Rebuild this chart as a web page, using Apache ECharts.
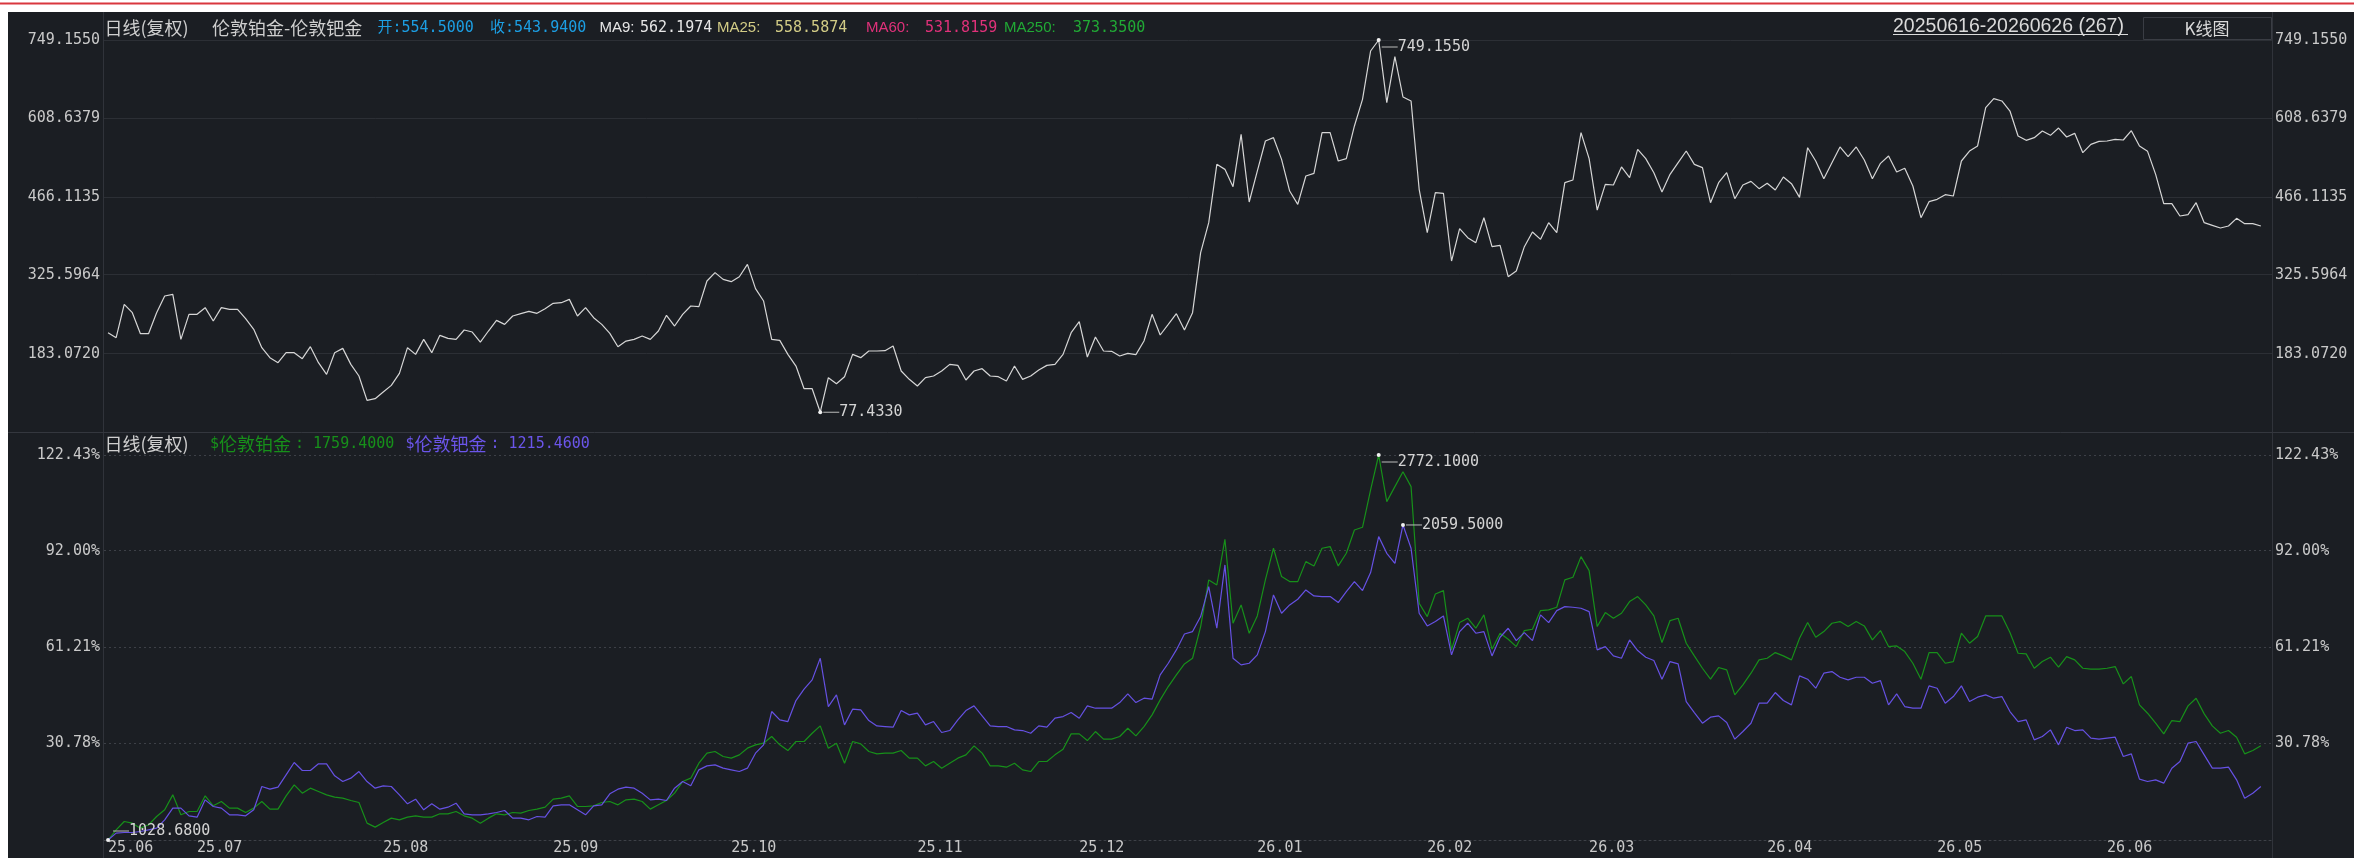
<!DOCTYPE html>
<html><head><meta charset="utf-8">
<script src="https://cdn.jsdelivr.net/npm/echarts@6/dist/echarts.min.js"></script>
<style>html,body{margin:0;padding:0;background:#fff;overflow:hidden}
#c{position:absolute;left:0;top:0;width:2354px;height:858px}</style>
</head><body><div id="c"></div>
<script>
// ---------- data ----------
const startDate = '2025-06-16';
const endDate = '2026-06-26';
const holidays = ['2025-12-25', '2026-01-01', '2026-04-03'];

// 伦敦铂金-伦敦钯金 (top pane)
const spread = [
221.0,211.9,272.1,257.1,219.2,219.2,257.1,287.2,290.2,208.9,
254.1,254.1,266.1,242.0,266.1,263.1,263.1,246.2,227.0,193.9,
175.9,166.8,184.9,184.9,174.1,195.7,166.8,145.8,184.9,192.7,
163.8,142.8,98.9,101.9,113.9,125.9,147.6,193.9,181.9,208.9,
184.9,216.2,210.8,208.9,225.8,222.2,204.1,224.0,243.2,236.0,
251.1,255.3,259.5,255.9,264.3,273.9,275.1,281.1,251.1,266.1,
248.0,236.0,219.8,195.7,205.9,208.9,215.0,208.9,224.0,252.3,
233.0,254.1,269.1,267.9,314.2,329.3,317.2,313.0,322.0,344.3,
300.4,278.1,208.9,207.1,181.9,160.8,119.9,119.9,77.433,139.8,
128.9,141.6,181.9,175.9,187.9,187.9,188.5,196.9,151.8,136.8,
124.7,139.8,142.8,151.8,163.8,162.0,135.6,151.8,156.0,142.8,
141.6,133.8,160.8,136.8,142.8,153.6,162.0,163.8,181.9,221.0,
240.8,177.1,213.2,187.9,187.3,178.9,183.7,181.3,205.9,254.1,
216.8,236.0,255.3,225.8,257.1,365.4,419.5,524.8,515.7,484.5,
578.9,456.8,512.7,566.9,572.9,533.8,476.6,452.6,503.7,508.5,
581.9,581.9,530.8,535.0,594.0,642.1,729.3,749.155,636.1,719.1,
646.3,639.1,479.7,401.4,473.6,472.4,350.3,408.7,392.4,383.4,
428.5,376.2,378.6,322.0,332.3,376.2,402.6,389.4,419.5,401.4,
491.7,496.5,581.9,535.0,442.3,488.7,487.5,520.0,500.7,551.8,
535.0,509.7,474.8,506.7,527.8,548.8,524.8,518.8,455.6,491.7,
509.7,462.8,487.5,494.1,480.9,490.5,478.4,501.9,489.9,465.2,
554.8,530.8,498.9,527.8,556.1,538.6,556.1,532.6,498.9,526.6,
539.8,510.9,517.6,485.7,428.5,457.4,461.6,470.0,467.6,530.8,
548.8,557.9,627.0,643.3,639.1,621.0,575.9,568.1,572.9,584.9,
577.1,590.3,574.1,580.7,545.8,560.9,566.3,566.9,569.9,568.7,
585.5,557.9,548.2,506.7,453.8,453.8,431.5,433.9,455.6,419.5,
414.7,409.9,413.5,427.3,417.7,417.7,413.5
];

// $伦敦铂金 (% change, bottom pane, green)
const platinumPct = [
0,3.24,5.89,5.36,3.77,4.83,7.48,9.60,14.36,8.01,
9.07,9.07,14.05,10.87,12.24,10.13,10.13,8.75,10.13,12.24,
9.81,9.81,14.05,17.54,14.89,16.48,15.42,14.36,13.62,13.30,
12.56,11.93,5.36,4.09,5.57,6.95,6.42,7.27,7.69,7.27,
7.27,8.33,8.33,9.07,7.69,6.95,5.36,6.95,8.33,8.01,
8.75,8.54,9.38,9.81,10.44,12.99,13.30,14.05,10.66,10.66,
10.87,11.93,12.24,11.18,12.77,12.99,12.24,9.81,11.18,12.56,
14.89,18.60,19.66,24.43,27.61,28.14,26.55,26.02,27.08,29.20,
30.26,30.79,32.90,30.26,28.45,31.32,31.32,33.96,36.29,29.20,
30.79,24.43,31.32,30.57,28.14,27.40,27.61,27.61,28.45,26.02,
26.02,23.58,24.96,22.84,24.43,26.02,27.08,29.94,27.61,23.58,
23.58,23.16,24.43,22.31,21.78,24.96,24.96,27.08,28.88,33.75,
33.75,31.63,34.49,32.06,32.06,32.90,35.55,33.12,36.08,39.79,
44.56,48.80,52.51,56.00,57.80,67.87,82.70,81.11,95.63,68.93,
74.76,65.75,71.26,82.70,92.77,83.76,82.17,82.17,88.53,87.15,
92.77,93.30,87.15,91.18,98.59,99.44,111.31,122.43,107.60,112.37,
117.13,112.37,75.28,71.05,78.25,79.31,60.45,69.14,70.52,67.34,
71.58,60.67,65.75,63.84,61.51,66.60,67.02,72.95,73.17,74.01,
82.70,83.55,90.12,85.67,67.87,72.32,70.52,72.11,75.81,77.40,
74.76,71.26,62.78,69.78,70.52,62.57,58.54,54.62,51.13,54.84,
54.10,46.15,49.33,53.04,57.27,57.80,59.60,58.54,57.27,64.16,
69.14,64.48,66.28,68.93,69.46,67.87,69.46,68.08,63.63,66.60,
61.51,61.72,59.92,56.21,51.13,59.60,59.60,56.21,56.74,65.75,
62.57,64.69,71.26,71.26,71.26,65.96,59.39,59.18,54.62,56.74,
58.12,54.94,58.33,57.27,54.62,54.31,54.31,54.62,55.15,49.64,
51.98,42.97,40.32,37.14,33.75,37.99,37.67,42.65,45.09,40.11,
36.29,33.96,34.81,32.69,27.40,28.45,29.94
];

// $伦敦钯金 (% change, bottom pane, purple)
const palladiumPct = [
0,2.18,2.39,2.39,2.71,3.24,3.77,6.42,10.13,10.13,
7.69,7.27,12.77,10.66,10.13,8.01,8.01,7.69,9.60,17.01,
16.17,16.80,20.72,24.64,22.10,22.10,24.22,24.22,20.40,18.60,
19.66,21.78,18.60,16.48,17.23,17.01,14.36,11.50,12.99,9.60,
11.50,9.81,10.44,11.71,8.33,8.01,8.01,8.33,8.75,9.38,
6.95,6.95,6.42,7.48,7.27,10.87,11.18,11.18,9.60,8.01,
10.87,11.18,14.68,16.17,16.80,16.48,14.89,12.77,12.99,12.56,
16.48,18.60,17.23,22.31,23.58,23.90,22.84,22.31,21.78,22.84,
27.61,30.26,40.85,38.20,37.67,44.35,47.95,50.92,57.80,42.44,
46.15,36.61,41.59,41.38,37.99,36.29,36.08,35.87,41.17,39.79,
40.32,36.61,37.67,34.18,34.81,38.20,41.17,42.65,39.48,36.29,
36.08,36.08,35.02,34.81,33.96,36.29,35.87,38.73,39.26,40.53,
38.73,42.65,41.91,41.91,41.91,43.71,46.47,43.71,45.09,44.77,
52.51,56.21,60.45,65.50,66.28,71.05,80.58,67.34,87.47,57.80,
55.68,56.21,58.86,66.28,77.93,72.11,74.76,76.56,79.52,77.62,
77.40,77.40,75.50,78.99,82.17,79.31,85.03,96.47,91.18,88.00,
100.18,92.77,72.11,68.08,69.46,71.26,58.86,66.28,68.93,65.75,
66.28,58.54,64.48,67.34,63.42,65.96,63.42,71.58,69.14,72.95,
74.22,74.01,73.70,72.64,60.45,61.51,58.54,57.80,63.63,60.24,
58.12,57.06,51.13,56.74,56.00,44.03,40.53,37.14,39.05,39.47,
37.35,32.06,34.49,37.14,43.50,43.50,46.89,44.35,42.97,52.19,
51.13,48.27,53.04,53.57,51.76,50.92,51.76,51.76,49.86,50.70,
42.97,46.47,42.44,41.91,41.91,49.01,48.27,43.50,45.62,49.01,
44.03,45.41,46.15,45.09,45.62,40.85,37.67,38.20,31.85,32.90,
35.02,30.26,35.87,34.81,35.02,32.38,32.06,32.38,32.69,26.55,
27.40,19.34,18.60,19.13,18.07,22.84,24.96,30.79,31.32,27.08,
22.84,22.84,23.16,19.13,13.30,14.89,17.01
];

const spreadTicks = [749.155, 608.6379, 466.1135, 325.5964, 183.072];
const spreadRange = [39.96, 749.155];
const pctTicks = [122.43, 92.00, 61.21, 30.78];
const pctRange = [0, 122.43];

// extreme-point labels (price values)
const spreadMaxLabel = '749.1550', spreadMinLabel = '77.4330';
const ptMaxLabel = '2772.1000', pdMaxLabel = '2059.5000', baseLabel = '1028.6800';

// header texts
const hdrTopTitle = ['日线(复权)', '伦敦铂金-伦敦钯金'];
const hdrTopQuote = ['开:554.5000', '收:543.9400'];
const maNames = ['MA9:', 'MA25:', 'MA60:', 'MA250:'];
const maValues = ['562.1974', '558.5874', '531.8159', '373.3500'];
const hdrBottom = ['日线(复权)', '伦敦铂金', ': 1759.4000', '伦敦钯金', ': 1215.4600'];
const rangeText = '20250616-20260626 (267)';
const btnText = 'K线图';

// ---------- build ----------
function tradingDays(s, e, skip) {
  const out = [];
  let d = new Date(s + 'T00:00:00Z');
  const end = new Date(e + 'T00:00:00Z');
  while (d <= end) {
    const w = d.getUTCDay();
    const iso = d.toISOString().slice(0, 10);
    if (w !== 0 && w !== 6 && skip.indexOf(iso) < 0) out.push(iso);
    d = new Date(d.getTime() + 86400000);
  }
  return out;
}
const dates = tradingDays(startDate, endDate, holidays);
const categories = dates.concat(['']); // one empty trailing slot

const BG = '#1b1e23';
const MONO = '"DejaVu Sans Mono", "Noto Sans CJK SC", monospace';
const CJK = '"Noto Sans CJK SC", sans-serif';
const SANS = '"Liberation Sans", Arial, sans-serif';
const FS = 15;
const LBL = '#c9c9c9';
const GREEN = '#17901a';
const PURPLE = '#6651e3';

function argMax(a) { let k = 0; a.forEach((v, i) => { if (v > a[k]) k = i; }); return k; }
function argMin(a) { let k = 0; a.forEach((v, i) => { if (v < a[k]) k = i; }); return k; }

function markPts(items) {
  return {
    symbol: 'circle', symbolSize: 4, silent: true, animation: false,
    itemStyle: { color: '#f0f0f0' },
    label: {
      show: true, position: 'right', distance: 1,
      color: '#d4d4d4', fontFamily: MONO, fontSize: FS,
      formatter: p => '{l| }' + p.data.text,
      rich: { l: { width: 16, height: 1, backgroundColor: '#bdbdbd', fontSize: 1 } }
    },
    data: items
  };
}

const sMax = argMax(spread), sMin = argMin(spread);
const gMax = argMax(platinumPct), pMax = argMax(palladiumPct);

const numLabel = (dec, suf) => ({
  color: LBL, fontFamily: MONO, fontSize: FS,
  formatter: v => Number(v).toFixed(dec) + (suf || '')
});

function txt(x, y, text, fill, font, extra) {
  return { type: 'text', x: x, y: y, z: 60,
    style: Object.assign({ text: text, fill: fill, font: font, verticalAlign: 'middle' }, extra || {}) };
}

const MA_COLORS = ['#e6e6e6', '#d2cc86', '#e0317a', '#21aa35'];
const MA_NAME_X = [599.5, 717, 866, 1004];
const MA_VAL_X = [640, 775, 925, 1073];

const headerEls = [
  txt(104.5, 28, hdrTopTitle[0], '#cfcfcf', '18px ' + CJK),
  txt(212, 28, hdrTopTitle[1], '#cfcfcf', '18px ' + CJK),
  txt(377.5, 28, hdrTopQuote[0], '#1c9fe4', FS + 'px ' + MONO),
  txt(490, 28, hdrTopQuote[1], '#1c9fe4', FS + 'px ' + MONO)
];
maNames.forEach((n, k) => {
  headerEls.push(txt(MA_NAME_X[k], 28, n, MA_COLORS[k], '15px ' + SANS));
  headerEls.push(txt(MA_VAL_X[k], 28, maValues[k], MA_COLORS[k], FS + 'px ' + MONO));
});
headerEls.push(
  txt(104.5, 444, hdrBottom[0], '#cfcfcf', '18px ' + CJK),
  txt(210, 444, '$', GREEN, FS + 'px ' + MONO),
  txt(219, 444, hdrBottom[1], GREEN, '18px ' + CJK),
  txt(295, 444, hdrBottom[2], GREEN, FS + 'px ' + MONO),
  txt(405.5, 444, '$', '#6b55ea', FS + 'px ' + MONO),
  txt(414.5, 444, hdrBottom[3], '#6b55ea', '18px ' + CJK),
  txt(490.5, 444, hdrBottom[4], '#6b55ea', FS + 'px ' + MONO),
  txt(1893, 27, rangeText, '#dadada', '19.5px ' + SANS),
  txt(2207, 28.5, btnText, '#dadada', '17px ' + CJK, { align: 'center' })
);

const option = {
  backgroundColor: BG,
  animation: false,
  grid: [
    { left: 104, top: 40, width: 2169, height: 393 },
    { left: 104, top: 455, width: 2169, height: 385 }
  ],
  xAxis: [
    { type: 'category', gridIndex: 0, data: categories, boundaryGap: true,
      axisLine: { show: false }, axisTick: { show: false }, axisLabel: { show: false }, splitLine: { show: false } },
    { type: 'category', gridIndex: 1, data: categories, boundaryGap: true,
      axisLine: { show: true, lineStyle: { color: '#3d4047', type: [2, 3], width: 1 } },
      axisTick: { show: false }, splitLine: { show: false },
      axisLabel: {
        show: true, color: LBL, fontFamily: MONO, fontSize: FS, align: 'left', margin: 1,
        interval: (i, v) => v !== '' && (i === 0 || categories[i - 1].slice(0, 7) !== v.slice(0, 7)),
        formatter: v => v ? v.slice(2, 4) + '.' + v.slice(5, 7) : ''
      } }
  ],
  yAxis: [
    { type: 'value', gridIndex: 0, position: 'left', min: spreadRange[0], max: spreadRange[1],
      axisLine: { show: false }, axisTick: { show: false, customValues: spreadTicks },
      axisLabel: Object.assign({ customValues: spreadTicks, margin: 4 }, numLabel(4)),
      splitLine: { show: true, lineStyle: { color: '#2c2f35', width: 1 } } },
    { type: 'value', gridIndex: 0, position: 'right', min: spreadRange[0], max: spreadRange[1],
      axisLine: { show: false }, axisTick: { show: false, customValues: spreadTicks },
      axisLabel: Object.assign({ customValues: spreadTicks, margin: 2 }, numLabel(4)),
      splitLine: { show: false } },
    { type: 'value', gridIndex: 1, position: 'left', min: pctRange[0], max: pctRange[1],
      axisLine: { show: false }, axisTick: { show: false, customValues: pctTicks },
      axisLabel: Object.assign({ customValues: pctTicks, margin: 4 }, numLabel(2, '%')),
      splitLine: { show: true, lineStyle: { color: '#3d4047', width: 1, type: [2, 3] } } },
    { type: 'value', gridIndex: 1, position: 'right', min: pctRange[0], max: pctRange[1],
      axisLine: { show: false }, axisTick: { show: false, customValues: pctTicks },
      axisLabel: Object.assign({ customValues: pctTicks, margin: 2 }, numLabel(2, '%')),
      splitLine: { show: false } }
  ],
  series: [
    { type: 'line', xAxisIndex: 0, yAxisIndex: 0, data: spread, showSymbol: false,
      lineStyle: { color: '#d6d6d6', width: 1.2 }, itemStyle: { color: '#d6d6d6' },
      markPoint: markPts([
        { coord: [sMax, spread[sMax]], text: spreadMaxLabel, label: { offset: [0, 7] } },
        { coord: [sMin, spread[sMin]], text: spreadMinLabel }
      ]) },
    { type: 'line', xAxisIndex: 1, yAxisIndex: 2, data: platinumPct, showSymbol: false,
      lineStyle: { color: GREEN, width: 1.2 }, itemStyle: { color: GREEN },
      markPoint: markPts([
        { coord: [gMax, platinumPct[gMax]], text: ptMaxLabel, label: { offset: [0, 7] } },
        { coord: [0, platinumPct[0]], text: baseLabel, label: { offset: [2, -9] } }
      ]) },
    { type: 'line', xAxisIndex: 1, yAxisIndex: 2, data: palladiumPct, showSymbol: false,
      lineStyle: { color: PURPLE, width: 1.2 }, itemStyle: { color: PURPLE },
      markPoint: markPts([
        { coord: [pMax, palladiumPct[pMax]], text: pdMaxLabel }
      ]) }
  ],
  graphic: { elements: [
    // frame: white strips + red rule
    { type: 'rect', shape: { x: 0, y: 0, width: 2354, height: 12 }, style: { fill: '#ffffff' }, z: 100 },
    { type: 'rect', shape: { x: 0, y: 0, width: 8, height: 858 }, style: { fill: '#ffffff' }, z: 100 },
    { type: 'rect', shape: { x: 0, y: 2.5, width: 2354, height: 2 }, style: { fill: '#d9373f' }, z: 101 },
    // pane separators
    { type: 'line', shape: { x1: 103.5, y1: 12, x2: 103.5, y2: 858 }, style: { stroke: '#30333a', lineWidth: 1 }, z: 50 },
    { type: 'line', shape: { x1: 2272.5, y1: 12, x2: 2272.5, y2: 858 }, style: { stroke: '#30333a', lineWidth: 1 }, z: 50 },
    { type: 'line', shape: { x1: 8, y1: 432.5, x2: 2354, y2: 432.5 }, style: { stroke: '#34373e', lineWidth: 1 }, z: 50 },
    // range underline + button frame
    { type: 'line', shape: { x1: 1893, y1: 34.5, x2: 2128, y2: 34.5 }, style: { stroke: '#dadada', lineWidth: 1 }, z: 60 },
    { type: 'rect', shape: { x: 2143.5, y: 17.5, width: 128, height: 22 }, style: { fill: BG, stroke: '#3a3d44', lineWidth: 1 }, z: 59 }
  ].concat(headerEls) }
};

const chart = echarts.init(document.getElementById('c'), null, { renderer: 'canvas', width: 2354, height: 858 });
chart.setOption(option);
</script></body></html>
